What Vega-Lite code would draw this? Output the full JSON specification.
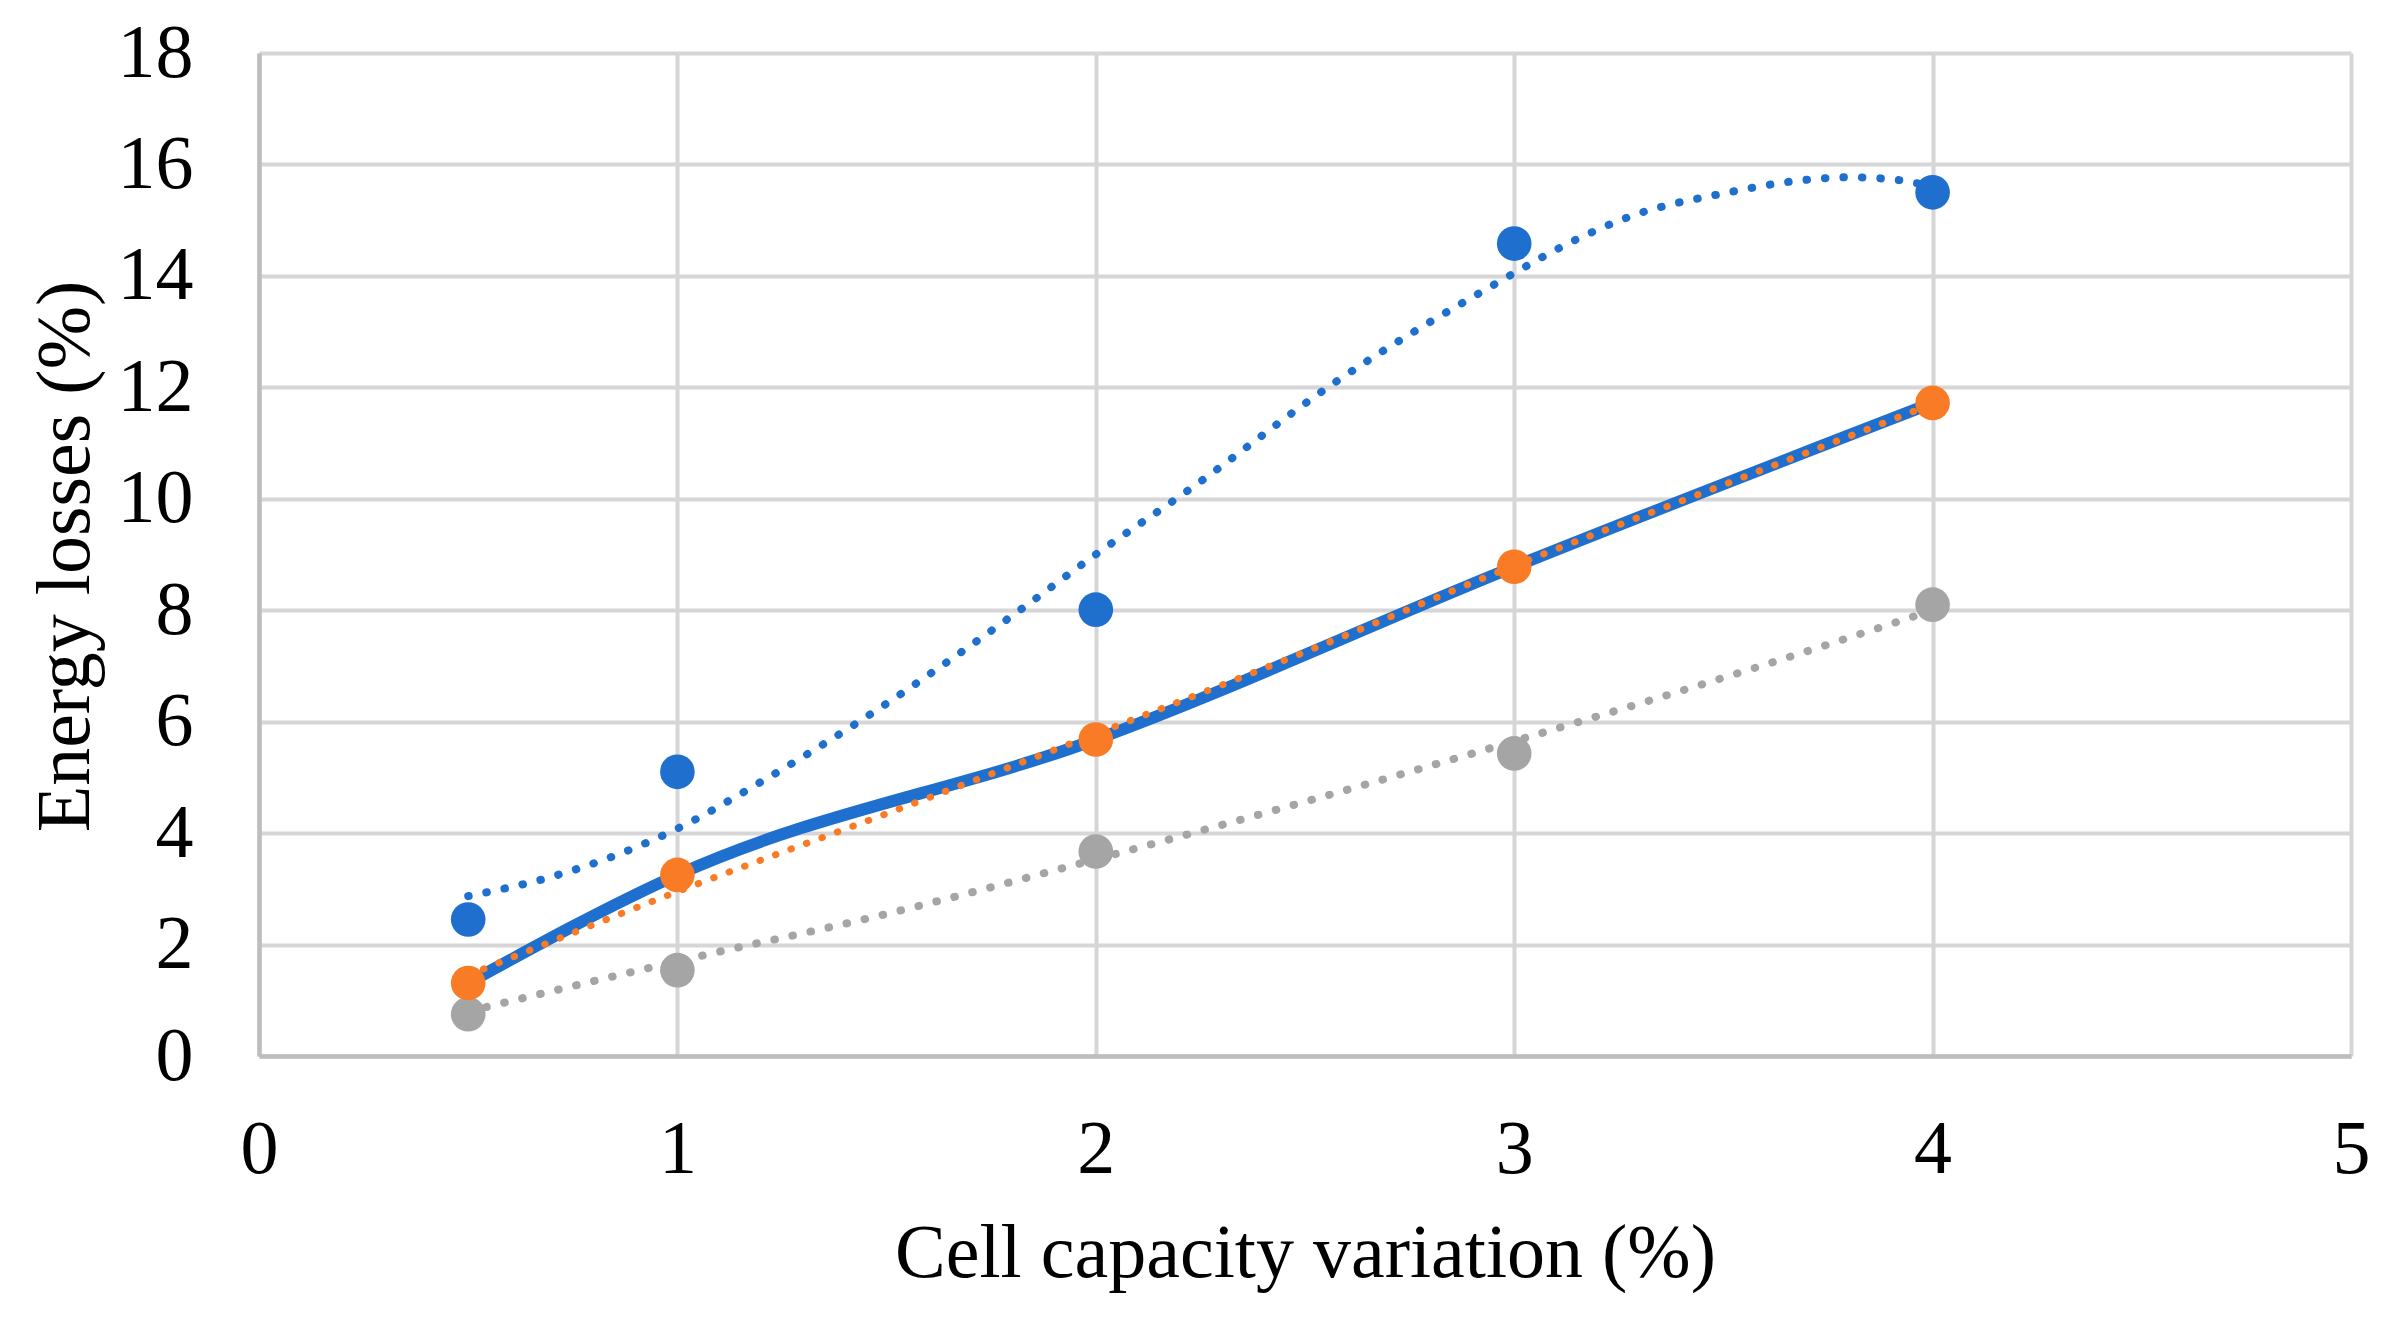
{
  "$schema": "https://vega.github.io/schema/vega-lite/v6.json",
  "width": 2092,
  "height": 1003,
  "autosize": {"type": "none"},
  "padding": {"left": 259, "top": 53, "right": 32, "bottom": 261},
  "background": "white",
  "config": {
    "view": {"stroke": null},
    "font": "Liberation Serif",
    "axis": {
      "labelFont": "Liberation Serif",
      "titleFont": "Liberation Serif",
      "labelFontSize": 76,
      "titleFontSize": 76,
      "labelColor": "black",
      "titleColor": "black",
      "titleFontWeight": "normal",
      "ticks": false,
      "tickSize": 0,
      "gridColor": "#d6d6d6",
      "gridWidth": 4,
      "domainColor": "#bdbdbd",
      "domainWidth": 4.5
    }
  },
  "datasets": {
    "points": [
      {"series": "gray", "x": 0.5, "y": 0.75},
      {"series": "gray", "x": 1, "y": 1.54},
      {"series": "gray", "x": 2, "y": 3.67},
      {"series": "gray", "x": 3, "y": 5.43},
      {"series": "gray", "x": 4, "y": 8.1},
      {"series": "blue", "x": 0.5, "y": 2.45},
      {"series": "blue", "x": 1, "y": 5.1},
      {"series": "blue", "x": 2, "y": 8.01},
      {"series": "blue", "x": 3, "y": 14.58},
      {"series": "blue", "x": 4, "y": 15.5},
      {"series": "orange", "x": 0.5, "y": 1.31},
      {"series": "orange", "x": 1, "y": 3.25},
      {"series": "orange", "x": 2, "y": 5.68},
      {"series": "orange", "x": 3, "y": 8.78},
      {"series": "orange", "x": 4, "y": 11.72}
    ],
    "trend": [
      {"series": "gray", "x": 0.5, "y": 0.8},
      {"series": "gray", "x": 1, "y": 1.7},
      {"series": "gray", "x": 1.5, "y": 2.55},
      {"series": "gray", "x": 2, "y": 3.53},
      {"series": "gray", "x": 3, "y": 5.65},
      {"series": "gray", "x": 3.59, "y": 7.0},
      {"series": "gray", "x": 4, "y": 8.0},
      {"series": "blue", "x": 0.5, "y": 2.87},
      {"series": "blue", "x": 0.71, "y": 3.24},
      {"series": "blue", "x": 1, "y": 4.08},
      {"series": "blue", "x": 1.2, "y": 4.92},
      {"series": "blue", "x": 1.44, "y": 6.03},
      {"series": "blue", "x": 1.8, "y": 7.9},
      {"series": "blue", "x": 2, "y": 9.0},
      {"series": "blue", "x": 2.23, "y": 10.2},
      {"series": "blue", "x": 2.57, "y": 12.08},
      {"series": "blue", "x": 3, "y": 14.05},
      {"series": "blue", "x": 3.09, "y": 14.43},
      {"series": "blue", "x": 3.29, "y": 15.1},
      {"series": "blue", "x": 3.5, "y": 15.48},
      {"series": "blue", "x": 3.68, "y": 15.71},
      {"series": "blue", "x": 3.8, "y": 15.77},
      {"series": "blue", "x": 3.93, "y": 15.71},
      {"series": "blue", "x": 3.97, "y": 15.65},
      {"series": "orange", "x": 0.5, "y": 1.45},
      {"series": "orange", "x": 1, "y": 2.95},
      {"series": "orange", "x": 1.5, "y": 4.35},
      {"series": "orange", "x": 2, "y": 5.78},
      {"series": "orange", "x": 2.5, "y": 7.25},
      {"series": "orange", "x": 3, "y": 8.8},
      {"series": "orange", "x": 3.5, "y": 10.25},
      {"series": "orange", "x": 4, "y": 11.7}
    ]
  },
  "encoding": {
    "x": {
      "field": "x",
      "type": "quantitative",
      "scale": {"domain": [0, 5], "nice": false, "zero": false},
      "axis": {
        "title": "Cell capacity variation (%)",
        "values": [0, 1, 2, 3, 4, 5],
        "format": "d",
        "labelBaseline": "alphabetic",
        "labelPadding": 116,
        "labelFlush": false,
        "titleX": 1046,
        "titleY": 220,
        "titleAlign": "center",
        "titleBaseline": "alphabetic"
      }
    },
    "y": {
      "field": "y",
      "type": "quantitative",
      "scale": {"domain": [0, 18], "nice": false},
      "axis": {
        "title": "Energy losses (%)",
        "values": [0, 2, 4, 6, 8, 10, 12, 14, 16, 18],
        "format": "d",
        "labelAlign": "right",
        "labelBaseline": "middle",
        "labelPadding": 66,
        "labelFlush": false,
        "titleAngle": -90,
        "titleX": -171,
        "titleY": 503,
        "titleAlign": "center",
        "titleBaseline": "alphabetic"
      }
    },
    "color": {
      "field": "series",
      "type": "nominal",
      "scale": {"domain": ["blue", "orange", "gray"], "range": ["#1f6fcf", "#fa7b25", "#a5a5a5"]},
      "legend": null
    }
  },
  "layer": [
    {
      "data": {"name": "trend"},
      "transform": [{"filter": "datum.series != 'orange'"}],
      "mark": {"type": "line", "interpolate": "monotone", "strokeWidth": 8, "strokeDash": [0.5, 18], "strokeCap": "round"}
    },
    {
      "data": {"name": "points"},
      "transform": [{"filter": "datum.series == 'orange'"}],
      "mark": {"type": "line", "interpolate": "monotone", "strokeWidth": 12, "color": "#1f6fcf"},
      "encoding": {"color": {"value": "#1f6fcf"}}
    },
    {
      "data": {"name": "trend"},
      "transform": [{"filter": "datum.series == 'orange'"}],
      "mark": {"type": "line", "interpolate": "monotone", "strokeWidth": 7, "strokeDash": [0.5, 16], "strokeCap": "round"}
    },
    {
      "data": {"name": "points"},
      "mark": {"type": "point", "filled": true, "opacity": 1, "size": 1200, "shape": "circle"}
    }
  ]
}
